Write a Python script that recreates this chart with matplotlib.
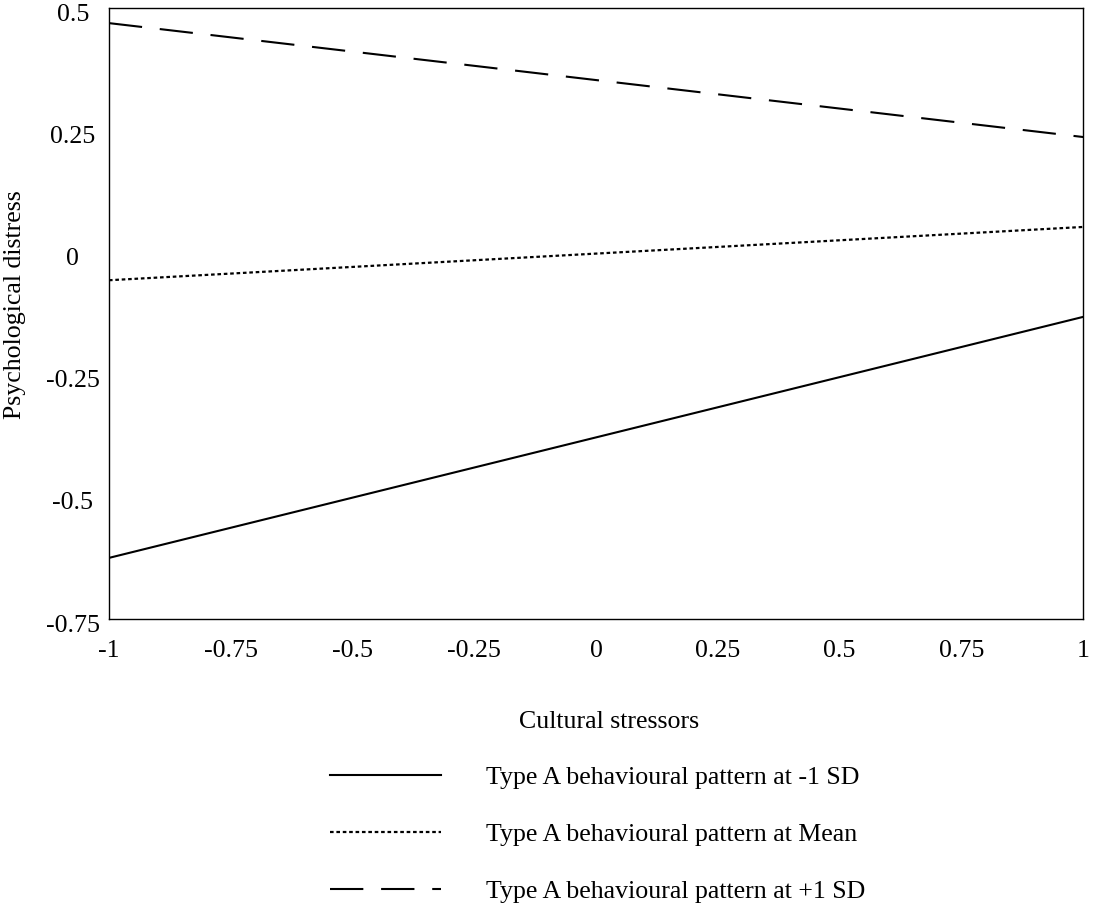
import matplotlib
matplotlib.use('Agg')
import matplotlib.pyplot as plt
from matplotlib.transforms import ScaledTranslation

# simple slopes: psychological distress vs cultural stressors
stress_levels = [-1, 1]
low_type_a = [-0.625, -0.132]    # -1 SD
mean_type_a = [-0.057, 0.052]    # mean
high_type_a = [0.469, 0.236]     # +1 SD

series_labels = ['Type A behavioural pattern at -1 SD',
                 'Type A behavioural pattern at Mean',
                 'Type A behavioural pattern at +1 SD']

x_ticks = [-1, -0.75, -0.5, -0.25, 0, 0.25, 0.5, 0.75, 1]
x_tick_labels = ['-1', '-0.75', '-0.5', '-0.25', '0', '0.25', '0.5', '0.75', '1']
y_ticks = [-0.75, -0.5, -0.25, 0, 0.25, 0.5]
y_tick_labels = ['-0.75', '-0.5', '-0.25', '0', '0.25', '0.5']

plt.rcParams['font.family'] = ['Liberation Serif', 'DejaVu Serif']
plt.rcParams['font.size'] = 18.6
plt.rcParams['lines.scale_dashes'] = False

fig = plt.figure(figsize=(10.94, 9.15), dpi=100)
ax = fig.add_axes([0.0996, 0.3235, 0.8904, 0.6678])

ax.plot(stress_levels, low_type_a, color='black', lw=1.5, linestyle='-', label=series_labels[0])
ax.plot(stress_levels, mean_type_a, color='black', lw=1.6, linestyle=(0, (2.6, 2.0)), label=series_labels[1])
ax.plot(stress_levels, high_type_a, color='black', lw=1.5, linestyle=(0, (24, 12.8)), label=series_labels[2])

ax.set_xlim(-1, 1)
ax.set_ylim(-0.75, 0.5)
ax.set_xticks(x_ticks)
ax.set_xticklabels(x_tick_labels)
ax.set_yticks(y_ticks)
ax.set_yticklabels(y_tick_labels, ha='center')
ax.tick_params(axis='x', length=0, pad=15)
ax.tick_params(axis='y', length=0, pad=26)

# excel puts the y labels a touch below the grid positions
shift = ScaledTranslation(0, -3 / 72, fig.dpi_scale_trans)
for lbl in ax.get_yticklabels():
    lbl.set_transform(lbl.get_transform() + shift)

for sp in ax.spines.values():
    sp.set_color('black')
    sp.set_linewidth(1.0)

ax.set_xlabel('Cultural stressors')
ax.xaxis.set_label_coords(0.513, -0.151)
ax.set_ylabel('Psychological distress')
ax.yaxis.set_label_coords(-0.085, 0.515)

fig.legend(loc='upper left', bbox_to_anchor=(0.3016, 0.1626), frameon=False,
           handlelength=4.3, handletextpad=1.75, labelspacing=1.31,
           borderpad=0, borderaxespad=0, fontsize=18.6)

fig.savefig('out.png', dpi=100)
